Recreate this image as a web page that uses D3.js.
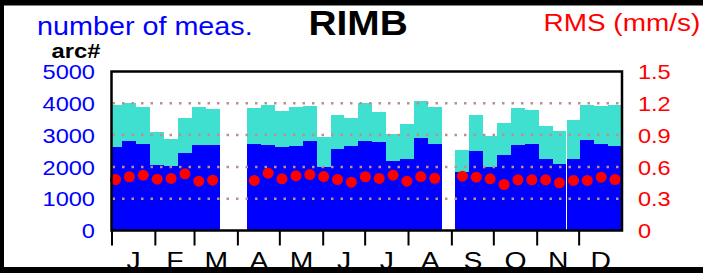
<!DOCTYPE html>
<html>
<head>
<meta charset="utf-8">
<script src="https://cdn.jsdelivr.net/npm/d3@7"></script>
<style>
  body { margin: 0; background: #fff; }
  svg { display: block; font-family: "Liberation Sans", Arial, sans-serif; }
</style>
</head>
<body>
<svg id="chart" width="703" height="273"></svg>
<script>
// month letters and first day of each month (day of year)
const months = ['J', 'F', 'M', 'A', 'M', 'J', 'J', 'A', 'S', 'O', 'N', 'D'];
const monthStart = [0, 31, 59, 90, 120, 151, 181, 212, 243, 273, 304, 334];

// centre day of each ~10 day bin
const binDay = [2.9, 12.8, 22.7, 32.7, 42.6, 52.5, 62.4, 72.3, 82.3, 92.2, 102.1, 112.0,
  121.9, 131.9, 141.8, 151.7, 161.6, 171.5, 181.5, 191.4, 201.3, 211.2, 221.1, 231.1,
  241.0, 250.9, 260.8, 270.7, 280.7, 290.6, 300.5, 310.4, 320.3, 330.3, 340.2, 350.1, 360.0];
const binWidth = 9.92;

// number of measurements, all (turquoise) and arc# (blue)
const totalMeas = [3931, 4003, 3899, 3091, 2884, 3544, 3899, 3827, null, null,
  3859, 3931, 3752, 3878, 3900, 2934, 3617, 3544, 4004, 3721, 3019, 3334, 4057, 3878, null,
  2516, 3639, 2956, 3375, 3859, 3796, 3280, 3123, 3482, 3931, 3900, 3931];
const arcMeas = [2619, 2808, 2726, 2075, 2013, 2431, 2673, 2673, null, null,
  2705, 2673, 2620, 2664, 2815, 1991, 2569, 2642, 2799, 2768, 2170, 2255, 2903, 2727, null,
  1834, 2494, 1991, 2381, 2673, 2705, 2255, 2076, 2233, 2831, 2727, 2664];
// RMS (mm/s)
const rms = [0.481, 0.507, 0.522, 0.484, 0.491, 0.535, 0.465, 0.475, null, null,
  0.472, 0.541, 0.488, 0.516, 0.528, 0.509, 0.481, 0.456, 0.507, 0.491, 0.522, 0.465, 0.509, 0.493, null,
  0.512, 0.503, 0.488, 0.434, 0.478, 0.478, 0.478, 0.450, 0.472, 0.472, 0.503, 0.481];

const leftTicks = [0, 1000, 2000, 3000, 4000, 5000];
const rightTicks = [0, 0.3, 0.6, 0.9, 1.2, 1.5];
const gridTicks = [1000, 2000, 3000, 4000];

const frame = { left: 111.5, right: 622, top: 71.5, bottom: 230.5 };
const SX = 1.18; // text is a bit wider than tall in the reference

const svg = d3.select('#chart');

const x = d3.scaleLinear().domain([0, 365]).range([frame.left, frame.right]);
const yL = d3.scaleLinear().domain([0, 5000]).range([frame.bottom, frame.top]);
const yR = d3.scaleLinear().domain([0, 1.5]).range([frame.bottom, frame.top]);

const bins = binDay.map((d, i) => ({ day: d, total: totalMeas[i], arc: arcMeas[i], rms: rms[i] }));

// outer black border (top, left, bottom)
svg.append('rect').attr('x', 0).attr('y', 0).attr('width', 703).attr('height', 5.5).attr('fill', '#000');
svg.append('rect').attr('x', 0).attr('y', 0).attr('width', 4).attr('height', 273).attr('fill', '#000');
svg.append('rect').attr('x', 0).attr('y', 267).attr('width', 703).attr('height', 6).attr('fill', '#000');

svg.append('clipPath').attr('id', 'plotclip')
  .append('rect')
  .attr('x', frame.left).attr('y', frame.top)
  .attr('width', frame.right - frame.left).attr('height', frame.bottom - frame.top);

const plot = svg.append('g').attr('clip-path', 'url(#plotclip)');

// turquoise = all measurements
plot.append('g').attr('fill', '#40e0d0').attr('shape-rendering', 'crispEdges')
  .selectAll('rect')
  .data(bins.filter(d => d.total != null))
  .join('rect')
  .attr('x', d => x(d.day - binWidth / 2))
  .attr('width', d => x(d.day + binWidth / 2) - x(d.day - binWidth / 2))
  .attr('y', d => yL(d.total))
  .attr('height', d => yL(0) - yL(d.total));

// blue = arc#
plot.append('g').attr('fill', '#0000ff').attr('shape-rendering', 'crispEdges')
  .selectAll('rect')
  .data(bins.filter(d => d.arc != null))
  .join('rect')
  .attr('x', d => x(d.day - binWidth / 2))
  .attr('width', d => x(d.day + binWidth / 2) - x(d.day - binWidth / 2))
  .attr('y', d => yL(d.arc))
  .attr('height', d => yL(0) - yL(d.arc));

// dotted grid
svg.append('g')
  .selectAll('line')
  .data(gridTicks)
  .join('line')
  .attr('x1', frame.left + 1)
  .attr('x2', frame.right - 1)
  .attr('y1', d => yL(d))
  .attr('y2', d => yL(d))
  .attr('stroke', '#bc8f8f')
  .attr('stroke-width', 2.5)
  .attr('stroke-dasharray', '2.5,7');

// RMS dots
svg.append('g')
  .selectAll('circle')
  .data(bins.filter(d => d.rms != null))
  .join('circle')
  .attr('cx', d => x(d.day))
  .attr('cy', d => yR(d.rms))
  .attr('r', 5.5)
  .attr('fill', '#ff0000');

// frame
svg.append('rect')
  .attr('x', frame.left).attr('y', frame.top)
  .attr('width', frame.right - frame.left).attr('height', frame.bottom - frame.top)
  .attr('fill', 'none').attr('stroke', '#000').attr('stroke-width', 2.5);

// left axis labels
const leftAxis = svg.append('g')
  .attr('transform', `translate(${frame.left},0)`)
  .call(d3.axisLeft(yL).tickValues(leftTicks).tickSize(0).tickPadding(14).tickFormat(d3.format('d')));
leftAxis.select('.domain').remove();
leftAxis.selectAll('text')
  .attr('fill', '#0000ff').attr('font-size', 20).attr('font-family', null)
  .attr('dy', '0.36em').attr('transform', `scale(${SX},1)`);

// right axis labels
const rightAxis = svg.append('g')
  .attr('transform', `translate(${frame.right},0)`)
  .call(d3.axisRight(yR).tickValues(rightTicks).tickSize(0).tickPadding(13.5)
    .tickFormat(d => d === 0 ? '0' : d3.format('.1f')(d)));
rightAxis.select('.domain').remove();
rightAxis.selectAll('text')
  .attr('fill', '#ff0000').attr('font-size', 20).attr('font-family', null)
  .attr('dy', '0.36em').attr('transform', `scale(${SX},1)`);

// month boundary ticks
const monthTicks = svg.append('g')
  .attr('transform', `translate(0,${frame.bottom})`)
  .call(d3.axisBottom(x).tickValues(monthStart).tickSize(15).tickFormat(''));
monthTicks.select('.domain').remove();
monthTicks.selectAll('line').attr('stroke', '#000').attr('stroke-width', 2);

// month letters at mid-month
const monthMid = monthStart.map((d, i) => (d + (i < 11 ? monthStart[i + 1] : 365)) / 2);
const monthAxis = svg.append('g')
  .attr('transform', `translate(0,${frame.bottom})`)
  .call(d3.axisBottom(x).tickValues(monthMid).tickSize(0).tickFormat((d, i) => months[i]));
monthAxis.select('.domain').remove();
monthAxis.selectAll('text')
  .attr('fill', '#000').attr('font-size', 24).attr('font-family', null)
  .attr('y', 38.5).attr('dy', null).attr('transform', `scale(${SX},1)`);

// titles
function label(txt, tx, ty, size, color, weight, sx) {
  svg.append('text')
    .attr('transform', `translate(${tx},${ty}) scale(${sx},1)`)
    .attr('font-size', size)
    .attr('font-weight', weight)
    .attr('fill', color)
    .text(txt);
}
label('number of meas.', 37, 35, 25, '#0000ff', 'normal', 1.15);
label('arc#', 51.5, 58.3, 19.5, '#000', 'bold', 1.22);
label('RIMB', 308.5, 35, 35, '#000', 'bold', 1.11);
label('RMS (mm/s)', 543.5, 31, 24.3, '#ff0000', 'normal', 1.15);
</script>
</body>
</html>
